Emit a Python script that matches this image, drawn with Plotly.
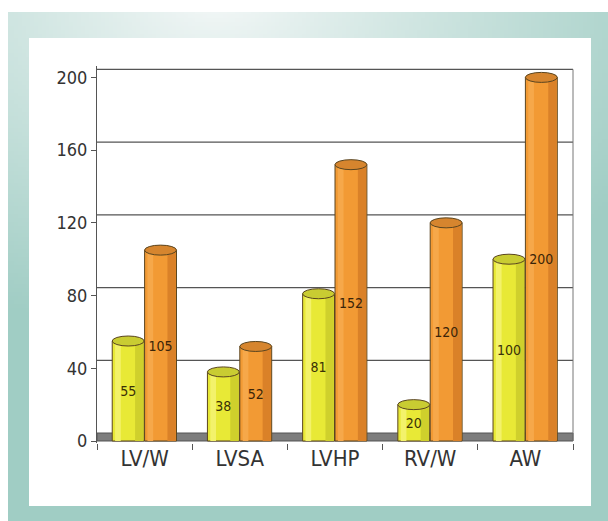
import base64, struct, zlib
import numpy as np
import plotly.graph_objects as go

categories = ["LV/W", "LVSA", "LVHP", "RV/W", "AW"]
series_a = [55, 38, 81, 20, 100]      # yellow
series_b = [105, 52, 152, 120, 200]   # orange
y_ticks = [0, 40, 80, 120, 160, 200]

W, H = 608, 521
ML, MR, MT, MB = 97, 35, 66, 78
PW, PH = W - ML - MR, H - MT - MB
K = 1.818  # px per unit
Y_LO = -2.0 / K
Y_HI = Y_LO + PH / K
FONT = "Liberation Sans Narrow, DejaVu Sans Condensed, Roboto Condensed, Noto Sans, sans-serif"


def png_data_uri(arr):
    h, w, _ = arr.shape
    raw = b"".join(b"\x00" + arr[r].astype(np.uint8).tobytes() for r in range(h))

    def chunk(tag, data):
        c = struct.pack(">I", len(data)) + tag + data
        return c + struct.pack(">I", zlib.crc32(tag + data) & 0xffffffff)

    png = b"\x89PNG\r\n\x1a\n" + chunk(b"IHDR", struct.pack(">IIBBBBB", w, h, 8, 2, 0, 0, 0))
    png += chunk(b"IDAT", zlib.compress(raw, 9)) + chunk(b"IEND", b"")
    return "data:image/png;base64," + base64.b64encode(png).decode()


# background gradient frame (decoration)
gw, gh = 152, 130
gx = np.linspace(0, W, gw)[None, :]
gy = np.linspace(0, H, gh)[:, None]
d = np.sqrt(((gx - 210) / 1.0) ** 2 + ((gy + 20) * 1.45) ** 2)
t = np.clip(d / 520.0, 0, 1) ** 0.9
light = np.array([246, 249, 249])
teal = np.array([160, 205, 196])
img = light[None, None, :] * (1 - t[..., None]) + teal[None, None, :] * t[..., None]
bg_uri = png_data_uri(img)


def px_to_paper_x(px):
    return (px - ML) / PW


def px_to_paper_y(py):
    return 1 - (py - MT) / PH


fig = go.Figure()

bw = 0.335
yellow_off, orange_off = -0.34, 0.0
outline = "#5a4520"

# main bodies
fig.add_trace(go.Bar(x=categories, y=series_a, offset=yellow_off, width=bw,
                     marker=dict(color="#e8e936", line=dict(color=outline, width=1)),
                     hoverinfo="skip", showlegend=False))
fig.add_trace(go.Bar(x=categories, y=series_b, offset=orange_off, width=bw,
                     marker=dict(color="#f29a34", line=dict(color=outline, width=1)),
                     hoverinfo="skip", showlegend=False))
# shading strips (right side darker, left side lighter)
fig.add_trace(go.Bar(x=categories, y=series_a, offset=yellow_off + 0.24, width=0.088,
                     marker=dict(color="#cfd02c", line=dict(width=0)),
                     hoverinfo="skip", showlegend=False))
fig.add_trace(go.Bar(x=categories, y=series_a, offset=yellow_off + 0.03, width=0.06,
                     marker=dict(color="#f3f26a", line=dict(width=0)),
                     hoverinfo="skip", showlegend=False))
fig.add_trace(go.Bar(x=categories, y=series_b, offset=orange_off + 0.24, width=0.088,
                     marker=dict(color="#da8128", line=dict(width=0)),
                     hoverinfo="skip", showlegend=False))
fig.add_trace(go.Bar(x=categories, y=series_b, offset=orange_off + 0.03, width=0.06,
                     marker=dict(color="#f6a84a", line=dict(width=0)),
                     hoverinfo="skip", showlegend=False))
# value labels
fig.add_trace(go.Bar(x=categories, y=series_a, offset=yellow_off, width=bw,
                     marker=dict(color="rgba(0,0,0,0)", line=dict(width=0)),
                     text=[str(v) for v in series_a], textposition="inside",
                     insidetextanchor="middle", textangle=0,
                     textfont=dict(family=FONT, size=14, color="#3a3008"),
                     hoverinfo="skip", showlegend=False))
fig.add_trace(go.Bar(x=categories, y=series_b, offset=orange_off, width=bw,
                     marker=dict(color="rgba(0,0,0,0)", line=dict(width=0)),
                     text=[str(v) for v in series_b], textposition="inside",
                     insidetextanchor="middle", textangle=0,
                     textfont=dict(family=FONT, size=14, color="#3a2408"),
                     hoverinfo="skip", showlegend=False))

shapes = []
# white panel
shapes.append(dict(type="rect", xref="paper", yref="paper",
                   x0=px_to_paper_x(29), x1=px_to_paper_x(591),
                   y0=px_to_paper_y(506), y1=px_to_paper_y(38),
                   fillcolor="white", line=dict(width=0), layer="below"))
# floor band
shapes.append(dict(type="rect", xref="paper", yref="y", ysizemode="pixel", yanchor=0,
                   x0=0, x1=1, y0=0, y1=8, fillcolor="#7d7d7d",
                   line=dict(color="#555555", width=1), layer="between"))
# back-wall grid lines (offset up, 3D look)
for v in y_ticks[1:]:
    shapes.append(dict(type="line", xref="paper", yref="y", ysizemode="pixel", yanchor=v,
                       x0=0, x1=1, y0=8, y1=8, line=dict(color="#555555", width=1.2),
                       layer="between"))
# right wall border
shapes.append(dict(type="line", xref="paper", yref="y", ysizemode="pixel", yanchor=0,
                   x0=1, x1=1, y0=0, y1=200 * K + 8,
                   line=dict(color="#777777", width=1), layer="between"))

# cylinder caps
for i, (a, b) in enumerate(zip(series_a, series_b)):
    for val, off, col in ((a, yellow_off, "#c9cc32"), (b, orange_off, "#d6852e")):
        shapes.append(dict(type="circle", xref="x", yref="y", ysizemode="pixel", yanchor=val,
                           x0=i + off, x1=i + off + bw, y0=-5, y1=5,
                           fillcolor=col, line=dict(color=outline, width=1), layer="above"))

fig.update_layout(
    width=W, height=H,
    margin=dict(l=ML, r=MR, t=MT, b=MB, pad=0),
    barmode="overlay",
    paper_bgcolor="white",
    plot_bgcolor="rgba(0,0,0,0)",
    shapes=shapes,
    images=[dict(source=bg_uri, xref="paper", yref="paper",
                 x=px_to_paper_x(8), y=px_to_paper_y(12),
                 sizex=(W - 8) / PW, sizey=(H - 12) / PH,
                 sizing="stretch", xanchor="left", yanchor="top", layer="below")],
    xaxis=dict(type="category", tickson="boundaries", ticks="outside", ticklen=6,
               tickcolor="#555555", showline=False, showgrid=False,
               tickfont=dict(family=FONT, size=22, color="#333333"),
               range=[-0.5, 4.5]),
    yaxis=dict(range=[Y_LO, Y_HI], tickvals=y_ticks, ticks="outside", ticklen=5,
               tickcolor="#555555", showline=True, linecolor="#555555", linewidth=1.2,
               showgrid=False, zeroline=False,
               tickfont=dict(family=FONT, size=18, color="#333333")),
)

fig.write_html("out.html")
